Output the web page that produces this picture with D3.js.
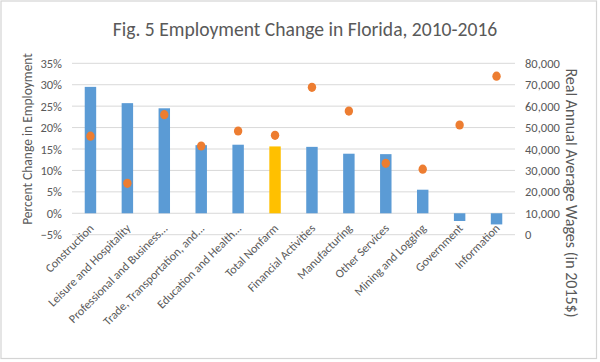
<!DOCTYPE html>
<html>
<head>
<meta charset="utf-8">
<script src="https://cdn.jsdelivr.net/npm/d3@7"></script>
<style>
  html, body { margin: 0; padding: 0; background: #fff; }
  svg { display: block; }
  text { font-family: Carlito, Calibri, "Open Sans", sans-serif; fill: #595959; }
</style>
</head>
<body>
<svg id="chart" width="600" height="362"></svg>
<script>
const categories = ["Construction", "Leisure and Hospitality", "Professional and Business...",
  "Trade, Transportation, and...", "Education and Health...", "Total Nonfarm",
  "Financial Activities", "Manufacturing", "Other Services", "Mining and Logging",
  "Government", "Information"];
const pctChange = [0.295, 0.257, 0.245, 0.159, 0.160, 0.156, 0.155, 0.139, 0.138, 0.055, -0.018, -0.026];
const wages = [46000, 24000, 56000, 41400, 48400, 46400, 68800, 57700, 33300, 30600, 51200, 74000];
const highlight = ["Total Nonfarm"];
const leftTicks = [-0.05, 0, 0.05, 0.10, 0.15, 0.20, 0.25, 0.30, 0.35];
const rightTicks = [0, 10000, 20000, 30000, 40000, 50000, 60000, 70000, 80000];

const svg = d3.select("#chart");
const plot = {left: 72, right: 515, top: 63.3, bottom: 234.7};

// border
svg.append("rect").attr("x", 1).attr("y", 1).attr("width", 595.5).attr("height", 357.5)
  .attr("fill", "#fff").attr("stroke", "#d4d4d4").attr("stroke-width", 1.2);

const x = d3.scaleBand().domain(categories).range([plot.left, plot.right])
  .paddingInner(0.69).paddingOuter(0.345);
const yL = d3.scaleLinear().domain([-0.05, 0.35]).range([plot.bottom, plot.top]);
const yR = d3.scaleLinear().domain([0, 80000]).range([plot.bottom, plot.top]);

// gridlines
svg.append("g").selectAll("line").data(leftTicks).join("line")
  .attr("x1", plot.left).attr("x2", plot.right)
  .attr("y1", d => yL(d)).attr("y2", d => yL(d))
  .attr("stroke", "#d9d9d9").attr("stroke-width", 1);

// left axis
const axL = d3.axisLeft(yL).tickValues(leftTicks).tickFormat(d3.format(".0%")).tickSize(0).tickPadding(0);
const gL = svg.append("g").attr("transform", `translate(${62},0)`).call(axL);
gL.select(".domain").remove();
gL.selectAll("text").style("font-size", "12.5px").attr("fill", "#595959");

// right axis
const axR = d3.axisRight(yR).tickValues(rightTicks).tickFormat(d3.format(",")).tickSize(0).tickPadding(0);
const gR = svg.append("g").attr("transform", `translate(${525},0)`).call(axR);
gR.select(".domain").remove();
gR.selectAll("text").style("font-size", "12.5px").attr("fill", "#595959");

// bars
svg.append("g").selectAll("rect").data(categories).join("rect")
  .attr("x", d => x(d))
  .attr("width", x.bandwidth())
  .attr("y", (d, i) => Math.min(yL(pctChange[i]), yL(0)))
  .attr("height", (d, i) => Math.abs(yL(pctChange[i]) - yL(0)))
  .attr("fill", d => highlight.includes(d) ? "#FFC000" : "#5B9BD5");

// wage dots
svg.append("g").selectAll("ellipse").data(categories).join("ellipse")
  .attr("cx", d => x(d) + x.bandwidth() / 2)
  .attr("cy", (d, i) => yR(wages[i]))
  .attr("rx", 4.2).attr("ry", 4.6)
  .attr("fill", "#ED7D31");

// category labels
svg.append("g").selectAll("text").data(categories).join("text")
  .attr("transform", d => `translate(${x(d) + x.bandwidth() / 2 + 4},${229}) rotate(-45)`)
  .attr("text-anchor", "end")
  .style("font-size", "12px")
  .text(d => d);

// title
svg.append("text").attr("x", 305).attr("y", 36).attr("text-anchor", "middle")
  .style("font-size", "19.6px").text("Fig. 5 Employment Change in Florida, 2010-2016");

// axis titles
svg.append("text").attr("transform", `translate(32,139) rotate(-90)`).attr("text-anchor", "middle")
  .style("font-size", "13.5px").text("Percent Change in Employment");
svg.append("text").attr("transform", `translate(566,193) rotate(90)`).attr("text-anchor", "middle")
  .style("font-size", "16px").text("Real Annual Average Wages (in 2015$)");
</script>
</body>
</html>
